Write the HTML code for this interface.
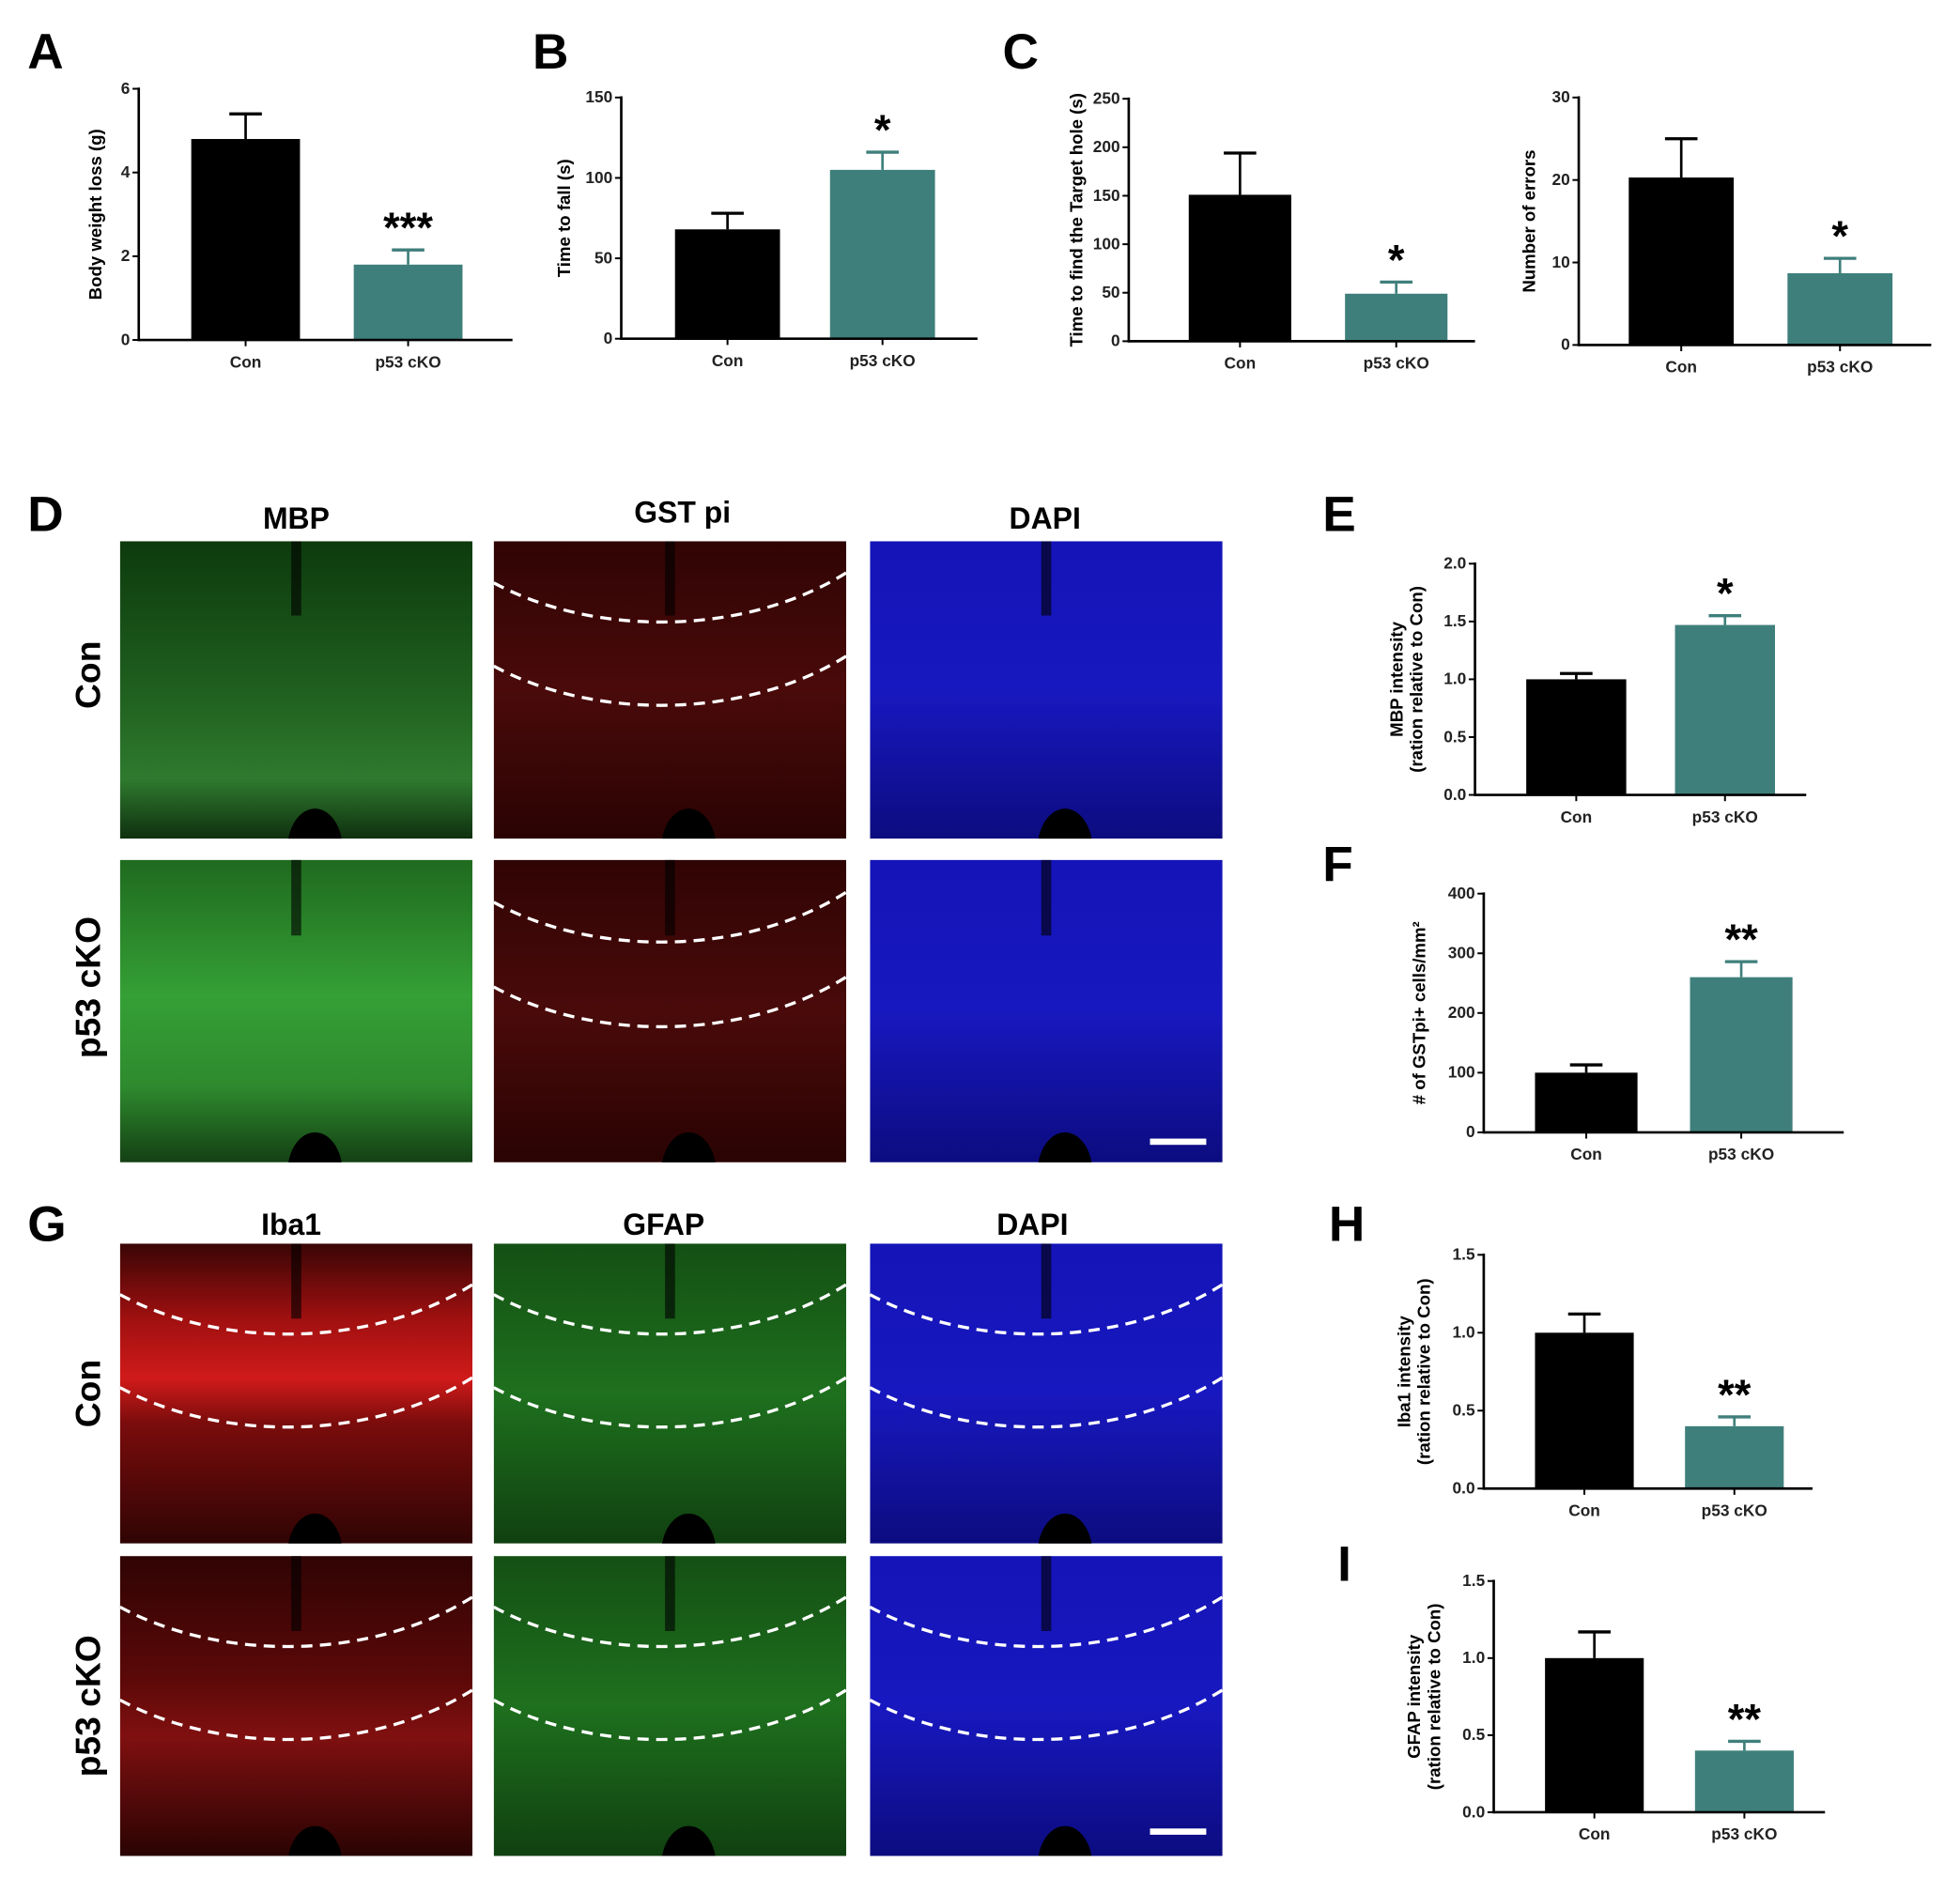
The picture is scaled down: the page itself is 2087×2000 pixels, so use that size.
<!DOCTYPE html>
<html><head><meta charset="utf-8"><style>
body{margin:0;background:#fff}
svg{display:block}
text{font-family:"Liberation Sans",sans-serif}
.tk{font-size:13px;font-weight:bold;fill:#222}
.yl{font-size:14px;font-weight:bold}
.pl{font-size:40px;font-weight:bold}
.hd{font-size:24px;font-weight:bold}
.st{font-size:34px;font-weight:bold}
</style></head><body>
<svg id="fig" width="2087" height="2000" viewBox="0 0 1568 1502.6" xmlns="http://www.w3.org/2000/svg">
<defs id="defs">
<linearGradient id="gMbp1" x1="0" y1="0" x2="0" y2="1"><stop offset="0" stop-color="#0d3a0d"/><stop offset=".5" stop-color="#1f5f1f"/><stop offset=".8" stop-color="#2f7a2f"/><stop offset="1" stop-color="#0f300f"/></linearGradient>
<linearGradient id="gMbp2" x1="0" y1="0" x2="0" y2="1"><stop offset="0" stop-color="#1f6a1f"/><stop offset=".45" stop-color="#35a035"/><stop offset=".75" stop-color="#2e8a2e"/><stop offset="1" stop-color="#144014"/></linearGradient>
<linearGradient id="gRed" x1="0" y1="0" x2="0" y2="1"><stop offset="0" stop-color="#300404"/><stop offset=".5" stop-color="#4a0a0a"/><stop offset="1" stop-color="#2a0303"/></linearGradient>
<linearGradient id="gBlue" x1="0" y1="0" x2="0" y2="1"><stop offset="0" stop-color="#1414b8"/><stop offset=".5" stop-color="#1818c0"/><stop offset="1" stop-color="#0c0c80"/></linearGradient>
<linearGradient id="gIba1" x1="0" y1="0" x2="0" y2="1"><stop offset="0" stop-color="#3a0505"/><stop offset=".25" stop-color="#a01010"/><stop offset=".45" stop-color="#d01a1a"/><stop offset=".6" stop-color="#7a0c0c"/><stop offset="1" stop-color="#300404"/></linearGradient>
<linearGradient id="gIba2" x1="0" y1="0" x2="0" y2="1"><stop offset="0" stop-color="#300404"/><stop offset=".4" stop-color="#5a0808"/><stop offset=".6" stop-color="#801010"/><stop offset="1" stop-color="#2a0303"/></linearGradient>
<linearGradient id="gGfap" x1="0" y1="0" x2="0" y2="1"><stop offset="0" stop-color="#145014"/><stop offset=".5" stop-color="#1e701e"/><stop offset="1" stop-color="#104010"/></linearGradient>
</defs>
<g id="charts"></g>
<g id="micro"></g>
</svg>
<script>
const cats = ['Con', 'p53 cKO'];
const aVals = [4.8, 1.8];
const aErrs = [5.4, 2.15];
const aTicks = [0, 2, 4, 6];
const bVals = [68, 105];
const bErrs = [78, 116];
const bTicks = [0, 50, 100, 150];
const c1Vals = [151, 49];
const c1Errs = [194, 61];
const c1Ticks = [0, 50, 100, 150, 200, 250];
const c2Vals = [20.3, 8.7];
const c2Errs = [25, 10.5];
const c2Ticks = [0, 10, 20, 30];
const eVals = [1.0, 1.47];
const eErrs = [1.05, 1.55];
const eTicks = [0, 0.5, 1.0, 1.5, 2.0];
const fVals = [100, 260];
const fErrs = [113, 286];
const fTicks = [0, 100, 200, 300, 400];
const hVals = [1.0, 0.4];
const hErrs = [1.12, 0.46];
const hTicks = [0, 0.5, 1.0, 1.5];
const iVals = [1.0, 0.4];
const iErrs = [1.17, 0.46];
const iTicks = [0, 0.5, 1.0, 1.5];

const NS = 'http://www.w3.org/2000/svg';
const root = document.getElementById('charts');
function mk(tag, attrs, parent, txt) {
  const e = document.createElementNS(NS, tag);
  for (const k in attrs) e.setAttribute(k, attrs[k]);
  if (txt !== undefined) e.textContent = txt;
  parent.appendChild(e);
  return e;
}
const colors = ['#000000', '#3f7f7b'];
function chart(id, cfg, vals, errs, ticks) {
  const g = mk('g', {}, root);
  
  
  const max = ticks[ticks.length - 1];
  const y = v => cfg.y0 - (v / max) * (cfg.y0 - cfg.y1);
  const dec = ticks.some(t => t % 1 !== 0);
  ticks.forEach(t => {
    mk('line', {x1: cfg.ax - 5, x2: cfg.ax, y1: y(t), y2: y(t), stroke: '#000', 'stroke-width': 1.5}, g);
    const tl = mk('text', {x: cfg.ax - 7, y: y(t) + 4, 'text-anchor': 'end', class: 'tk'}, g, dec ? t.toFixed(1) : t);
    
    
  });
  vals.forEach((v, i) => {
    const bx = cfg.bx[i];
    const c = colors[i];
    const r = mk('rect', {x: bx, y: y(v), width: cfg.bw, height: cfg.y0 - y(v), fill: c}, g);
    
    
    const cx = bx + cfg.bw / 2;
    mk('line', {x1: cx, x2: cx, y1: y(errs[i]), y2: y(v), stroke: c, 'stroke-width': 2}, g);
    mk('line', {x1: cx - 13, x2: cx + 13, y1: y(errs[i]), y2: y(errs[i]), stroke: c, 'stroke-width': 2.5}, g);
    mk('line', {x1: cx, x2: cx, y1: cfg.y0, y2: cfg.y0 + 5, stroke: '#000', 'stroke-width': 1.5}, g);
    const cl = mk('text', {x: cx, y: cfg.y0 + 22, 'text-anchor': 'middle', class: 'tk'}, g, cats[i]);
    
    
  });
  mk('line', {x1: cfg.ax, x2: cfg.ax, y1: cfg.y1 - 1, y2: cfg.y0 + 1, stroke: '#000', 'stroke-width': 2}, g);
  mk('line', {x1: cfg.ax, x2: cfg.xe, y1: cfg.y0, y2: cfg.y0, stroke: '#000', 'stroke-width': 2}, g);
  const sx = cfg.bx[1] + cfg.bw / 2;
  const s = mk('text', {x: sx, y: y(errs[1]) - 6, 'text-anchor': 'middle', class: 'st'}, g, cfg.star);
  
  
  const my = (cfg.y0 + cfg.y1) / 2;
  const yt = mk('text', {transform: 'translate(' + cfg.lx + ',' + my + ') rotate(-90)', 'text-anchor': 'middle', class: 'yl'}, g);
  
  
  cfg.label.forEach((l, k) => mk('tspan', {x: 0, dy: k === 0 ? 0 : 16}, yt, l));
}
chart('a', {ax: 111, y0: 272, y1: 71, xe: 410, bx: [153, 283], bw: 87, star: '***', lx: 81, label: ['Body weight loss (g)']}, aVals, aErrs, aTicks);
chart('b', {ax: 497, y0: 271, y1: 78, xe: 782, bx: [540, 664], bw: 84, star: '*', lx: 456, label: ['Time to fall (s)']}, bVals, bErrs, bTicks);
chart('c1', {ax: 903, y0: 273, y1: 79, xe: 1180, bx: [951, 1076], bw: 82, star: '*', lx: 866, label: ['Time to find the Target hole  (s)']}, c1Vals, c1Errs, c1Ticks);
chart('c2', {ax: 1263, y0: 276, y1: 78, xe: 1545, bx: [1303, 1430], bw: 84, star: '*', lx: 1228, label: ['Number of errors']}, c2Vals, c2Errs, c2Ticks);
chart('e', {ax: 1180, y0: 636, y1: 451, xe: 1445, bx: [1221, 1340], bw: 80, star: '*', lx: 1122, label: ['MBP intensity', '(ration relative to Con)']}, eVals, eErrs, eTicks);
chart('f', {ax: 1187, y0: 906, y1: 715, xe: 1475, bx: [1228, 1352], bw: 82, star: '**', lx: 1140, label: ['# of GSTpi+ cells/mm²']}, fVals, fErrs, fTicks);
chart('h', {ax: 1187, y0: 1191, y1: 1004, xe: 1450, bx: [1228, 1348], bw: 79, star: '**', lx: 1128, label: ['Iba1 intensity', '(ration relative to Con)']}, hVals, hErrs, hTicks);
chart('i', {ax: 1195, y0: 1450, y1: 1265, xe: 1460, bx: [1236, 1356], bw: 79, star: '**', lx: 1136, label: ['GFAP intensity', '(ration relative to Con)']}, iVals, iErrs, iTicks);

const letters = [['A', 22, 55], ['B', 426, 55], ['C', 802, 55], ['D', 22, 425], ['E', 1058, 425], ['F', 1058, 705], ['G', 22, 993], ['H', 1063, 993], ['I', 1070, 1265]];
letters.forEach(l => {
  const t = mk('text', {x: l[1], y: l[2], class: 'pl'}, root, l[0]);
  
  
});

const mg = document.getElementById('micro');
const defs = document.getElementById('defs');
const cols = [96, 395, 696];
const W = 282;
const rows = [[433, 238], [688, 242], [995, 240], [1245, 240]];
const fills = [['gMbp1', 'gRed', 'gBlue'], ['gMbp2', 'gRed', 'gBlue'], ['gIba1', 'gGfap', 'gBlue'], ['gIba2', 'gGfap', 'gBlue']];
const names = [['mbp-con', 'gstpi-con', 'dapi-con'], ['mbp-cko', 'gstpi-cko', 'dapi-cko'], ['iba1-con', 'gfap-con', 'dapi2-con'], ['iba1-cko', 'gfap-cko', 'dapi2-cko']];
rows.forEach((r, ri) => cols.forEach((cx, ci) => {
  const cid = 'clip' + ri + ci;
  const cp = mk('clipPath', {id: cid}, defs);
  mk('rect', {x: cx, y: r[0], width: W, height: r[1]}, cp);
  const g = mk('g', {'clip-path': 'url(#' + cid + ')'}, mg);
  const im = mk('rect', {x: cx, y: r[0], width: W, height: r[1], fill: 'url(#' + fills[ri][ci] + ')'}, g);
  
  
  mk('rect', {x: cx + W / 2 - 4, y: r[0], width: 8, height: r[1] * 0.25, fill: '#000', opacity: 0.6}, g);
  mk('ellipse', {cx: cx + W / 2 + 15, cy: r[0] + r[1] + 8, rx: 22, ry: 32, fill: '#000'}, g);
  const dashed = !(ri === 0 && ci !== 1) && !(ri === 1 && ci !== 1);
  if (dashed) {
    const h = r[1];
    const up = ri >= 2 ? 0.27 : 0.24, lo = ri >= 2 ? 0.58 : 0.52;
    [up, lo].forEach(f => {
      const y1 = r[0] + h * (f - 0.1), y2 = r[0] + h * (f + 0.06);
      mk('path', {d: 'M' + cx + ',' + y1 + ' C' + (cx + 80) + ',' + (y2 + 5) + ' ' + (cx + 200) + ',' + (y2 + 5) + ' ' + (cx + W) + ',' + (y1 - 8), fill: 'none', stroke: '#fff', 'stroke-width': 2.5, 'stroke-dasharray': '9,6'}, g);
    });
  }
}));
[[913], [1465]].forEach(s => {
  const b = mk('rect', {x: 920, y: s[0] - 2, width: 45, height: 5, fill: '#fff'}, mg);
  
  
});
const heads = [['MBP', 237, 423], ['GST pi', 546, 418], ['DAPI', 836, 423], ['Iba1', 233, 988], ['GFAP', 531, 988], ['DAPI', 826, 988]];
heads.forEach(h => {
  const t = mk('text', {x: h[1], y: h[2], 'text-anchor': 'middle', class: 'hd'}, mg, h[0]);
  
  
});
const rl = [['Con', 540], ['p53 cKO', 790], ['Con', 1115], ['p53 cKO', 1365]];
rl.forEach(l => {
  const t = mk('text', {transform: 'translate(80,' + l[1] + ') rotate(-90)', 'text-anchor': 'middle', class: 'hd', style: 'font-size:28px'}, mg, l[0]);
  
  
});
</script>
</body></html>
